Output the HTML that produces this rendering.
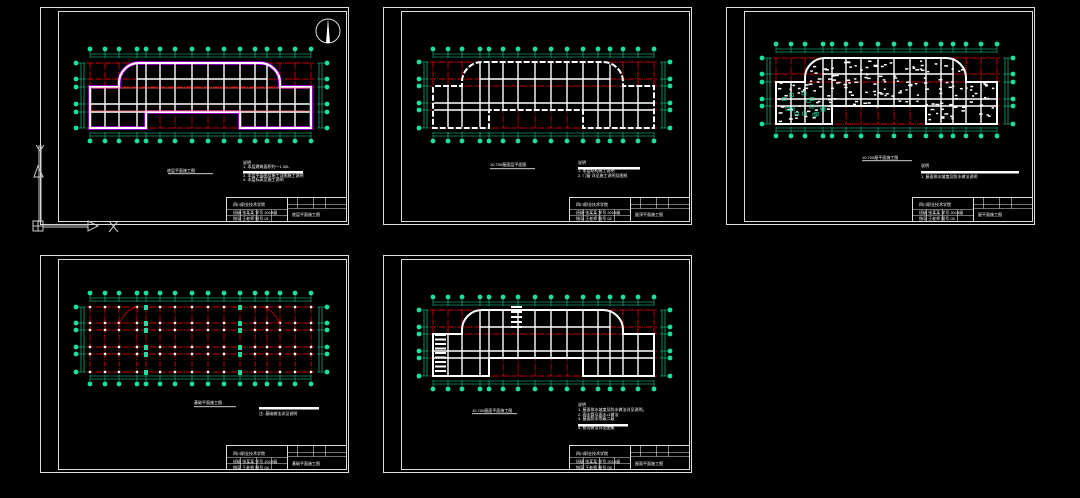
<!DOCTYPE html>
<html><head><meta charset="utf-8">
<style>
html,body{margin:0;padding:0;background:#000;width:1080px;height:498px;overflow:hidden}
svg{display:block}
text{font-family:"Liberation Sans","Noto Sans CJK SC",sans-serif;fill:#fff;font-size:4px}
</style></head>
<body>
<svg id="s" width="1080" height="498" viewBox="0 0 1080 498" xmlns="http://www.w3.org/2000/svg">
<g id="shapes"></g>
<g stroke="#ccc" fill="none" stroke-width="1">
<line x1="39" y1="145" x2="39" y2="222"/>
<line x1="41" y1="145" x2="41" y2="222"/>
<rect x="33" y="221" width="10" height="10"/>
<line x1="33" y1="226" x2="43" y2="226"/><line x1="38" y1="221" x2="38" y2="231"/>
<line x1="43" y1="225" x2="88" y2="225"/><line x1="43" y1="227" x2="88" y2="227"/>
<polygon points="34,177 38,166 43,177"/>
<polygon points="88,221 98,226 88,231"/>
<line x1="109" y1="221" x2="118" y2="232"/><line x1="118" y1="221" x2="109" y2="232"/>
<line x1="36" y1="145" x2="40" y2="151"/><line x1="44" y1="145" x2="40" y2="151"/>
</g>
<circle cx="328" cy="31" r="12" stroke="#ddd" fill="none"/>
<polygon points="328,18 326,43 330,43" fill="#fff"/>
<text x="167" y="172">底层平面施工图</text>
<text x="243" y="164">说明</text>
<text x="243" y="168">1. 本层建筑面积约一1.30L</text>
<text x="243" y="177">3. 本层平面图及施工详图施工说明</text>
<text x="243" y="181">4. 本层标高见施工说明</text>
<text x="233" y="206">四川职业技术学院</text>
<text x="233" y="214">班级 张某某 学号 2019级</text>
<text x="233" y="220">指导 王老师 图号 01</text>
<text x="292" y="216">底层平面施工图</text>

<text x="490" y="166">10.700屋面层平面图</text>
<text x="578" y="164">说明</text>
<text x="578" y="172">1. 本层结构施工说明</text>
<text x="578" y="177">2. 门窗 详见施工说明及图纸</text>
<text x="576" y="206">四川职业技术学院</text>
<text x="576" y="214">班级 张某某 学号 2019级</text>
<text x="576" y="220">指导 王老师 图号 02</text>
<text x="635" y="216">屋顶平面施工图</text>

<text x="862" y="159">10.700屋平面施工图</text>
<text x="921" y="167">说明</text>
<text x="921" y="178">1. 屋面排水坡度及防水做法说明</text>
<text x="919" y="206">四川职业技术学院</text>
<text x="919" y="214">班级 张某某 学号 2019级</text>
<text x="919" y="220">指导 王老师 图号 03</text>
<text x="978" y="216">屋平面施工图</text>

<text x="194" y="404">基础平面施工图</text>
<text x="259" y="415">注: 基础做法详见说明</text>
<text x="233" y="455">四川职业技术学院</text>
<text x="233" y="463">班级 张某某 学号 2019级</text>
<text x="233" y="469">指导 王老师 图号 04</text>
<text x="292" y="465">基础平面施工图</text>

<text x="472" y="412">10.700屋面平面施工图</text>
<text x="578" y="406">说明</text>
<text x="578" y="411">1. 屋面排水坡度及防水做法详见说明。</text>
<text x="578" y="416">2. 雨水管及雨水斗做法</text>
<text x="578" y="420">3. 屋面防水等级二级</text>
<text x="578" y="429">4. 檐沟做法详见图集</text>
<text x="576" y="455">四川职业技术学院</text>
<text x="576" y="463">班级 张某某 学号 2019级</text>
<text x="576" y="469">指导 王老师 图号 05</text>
<text x="635" y="465">屋面平面施工图</text>
</svg>
<script>
const NS="http://www.w3.org/2000/svg";
const G=document.getElementById('shapes');
function el(t,a){const e=document.createElementNS(NS,t);for(const k in a)e.setAttribute(k,a[k]);G.appendChild(e);return e;}
const cols=[50,65,79,97,106,120,135,152,168,184,200,215,227,240,255,271];
function sheet(ox,oy,type,rowsR,top,bot){
  el('rect',{x:ox+0.5,y:oy+0.5,width:308,height:217,fill:'none',stroke:'#ddd'});
  el('rect',{x:ox+18.5,y:oy+4.5,width:288,height:210,fill:'none',stroke:'#ddd'});
  const tx=ox+186.5,ty=oy+190.5;
  el('rect',{x:tx,y:ty,width:120,height:24,fill:'none',stroke:'#ddd'});
  [[0,12,61],[61,7,120],[61,11,120],[0,18,61]].forEach(r=>el('line',{x1:tx+r[0],y1:ty+r[1],x2:tx+r[2],y2:ty+r[1],stroke:'#ddd','stroke-width':.6}));
  el('line',{x1:tx+61,y1:ty,x2:tx+61,y2:ty+24,stroke:'#ddd'});
  [14,30,45].forEach(d=>el('line',{x1:tx+d,y1:ty+12,x2:tx+d,y2:ty+24,stroke:'#ddd','stroke-width':.6}));
  [71,87,99].forEach(d=>el('line',{x1:tx+d,y1:ty,x2:tx+d,y2:ty+11,stroke:'#ddd','stroke-width':.6}));
  const X=c=>ox+c, Y=r=>oy+r;
  const rows=rowsR.map(Y);
  const x0=X(50),x1=X(271);
  const g='#19e0a0';
  [top+5,top+8].forEach(d=>el('line',{x1:x0,y1:Y(d),x2:x1,y2:Y(d),stroke:g,'stroke-width':.6}));
  [bot-5,bot-8].forEach(d=>el('line',{x1:x0,y1:Y(d),x2:x1,y2:Y(d),stroke:g,'stroke-width':.6}));
  [41,44,279,282].forEach(d=>el('line',{x1:X(d),y1:rows[0],x2:X(d),y2:rows[5],stroke:g,'stroke-width':.6}));
  cols.forEach(c=>{el('line',{x1:X(c),y1:Y(top),x2:X(c),y2:Y(top+9),stroke:g,'stroke-width':.5});el('line',{x1:X(c),y1:Y(bot),x2:X(c),y2:Y(bot-9),stroke:g,'stroke-width':.5});
    el('circle',{cx:X(c),cy:Y(top),r:2.4,fill:g});el('circle',{cx:X(c),cy:Y(bot),r:2.4,fill:g});});
  rows.forEach(r=>{el('circle',{cx:X(36),cy:r,r:2.4,fill:g});el('circle',{cx:X(287),cy:r,r:2.4,fill:g});
    el('line',{x1:X(36),y1:r,x2:X(46),y2:r,stroke:g,'stroke-width':.5});el('line',{x1:X(277),y1:r,x2:X(287),y2:r,stroke:g,'stroke-width':.5});});
  cols.forEach(c=>el('line',{x1:X(c),y1:rows[0],x2:X(c),y2:rows[5],stroke:'#c00',"stroke-width":.9,"stroke-dasharray":"6 1 1 1"}));
  rows.forEach(r=>el('line',{x1:x0-3,y1:r,x2:x1+3,y2:r,stroke:'#c00',"stroke-width":1,"stroke-dasharray":"6 1 1 1"}));
  if(type==='found'){
    cols.forEach(c=>rows.forEach(r=>{el('rect',{x:X(c)-1.2,y:r-1.2,width:2.4,height:2.4,fill:'#fff'});}));
    [106,200].forEach(c=>rows.forEach(r=>el('rect',{x:X(c)-2,y:r-2,width:4,height:5,fill:g})));
    el('path',{d:`M${X(79)} ${rows[2]-2} A24 24 0 0 1 ${X(97)} ${rows[0]}`,stroke:'#c00',fill:'none','stroke-width':.8});
    el('path',{d:`M${X(223)} ${rows[0]} A24 24 0 0 1 ${X(240)} ${rows[2]-2}`,stroke:'#c00',fill:'none','stroke-width':.8});
    return;
  }
  const w='#fff';
  const ru=rows[0], rb=rows[5];
  const R=20;
  const outline=`M${X(50)} ${rows[2]} L${X(79)} ${rows[2]} L${X(79)} ${ru+R} A${R} ${R} 0 0 1 ${X(79)+R} ${ru} L${X(240)-R} ${ru} A${R} ${R} 0 0 1 ${X(240)} ${ru+R} L${X(240)} ${rows[2]} L${X(271)} ${rows[2]} L${X(271)} ${rb} L${X(200)} ${rb} L${X(200)} ${rows[4]} L${X(106)} ${rows[4]} L${X(106)} ${rb} L${X(50)} ${rb} Z`;
  if(type==='b1') el('path',{d:outline,stroke:'#b0f',fill:'none','stroke-width':3.5});
  el('path',{d:outline,stroke:w,fill:'none','stroke-width':2});
  cols.forEach(c=>{
    if(c>=97&&c<=227) el('line',{x1:X(c),y1:ru,x2:X(c),y2:rows[2],stroke:w,'stroke-width':1.4});
    if(c>50&&c<271&&(c<=106||c>=200)) el('line',{x1:X(c),y1:rows[2],x2:X(c),y2:rb,stroke:w,'stroke-width':1.4});
    else if(c>106&&c<200) el('line',{x1:X(c),y1:rows[2],x2:X(c),y2:rows[4],stroke:w,'stroke-width':1.4});
  });
  el('line',{x1:X(97),y1:rows[1],x2:X(227),y2:rows[1],stroke:w,'stroke-width':1.4});
  el('line',{x1:X(50),y1:rows[3],x2:X(271),y2:rows[3],stroke:w,'stroke-width':1.6});
  el('line',{x1:X(50),y1:rows[4],x2:X(106),y2:rows[4],stroke:w,'stroke-width':1.4});
  el('line',{x1:X(200),y1:rows[4],x2:X(271),y2:rows[4],stroke:w,'stroke-width':1.4});
  if(type==='b1'){
    el('line',{x1:X(50),y1:rows[2]+1,x2:X(271),y2:rows[2]+1,stroke:'#f66','stroke-width':.8});
    el('line',{x1:X(50),y1:rows[4]-1,x2:X(271),y2:rows[4]-1,stroke:'#f66','stroke-width':.8});
  }
  if(type==='dense'){
    let s=7;const rnd=()=>{s=(s*9301+49297)%233280;return s/233280;};
    for(let i=0;i<230;i++){let x=X(52+rnd()*217),y=ru+2+rnd()*(rb-ru-4);
      if(y<rows[2]&&(x<X(82)||x>X(237)))continue; if(y>rows[4]&&x>X(106)&&x<X(200))continue;
      el('rect',{x:x,y:y,width:2+rnd()*2,height:1.5,fill:'#fff'});}
    for(let i=0;i<14;i++){el('rect',{x:X(55+rnd()*50),y:rows[3]-10+rnd()*25,width:4,height:3,fill:'none',stroke:g,'stroke-width':.6});}
  }
  if(type==='roof'){
    for(let i=0;i<9;i++)el('rect',{x:X(52),y:rows[2]+i*4.5,width:11,height:2,fill:'#fff'});
    for(let i=0;i<5;i++)el('rect',{x:X(128),y:ru-4+i*5,width:11,height:2,fill:'#fff'});
  }
  if(type==='dash'){
    el('path',{d:outline,stroke:'#000',fill:'none','stroke-width':2.2,'stroke-dasharray':'2 6'});
  }
}
sheet(40,7,'b1',[56,72,80,97,105,121],42,134);
sheet(383,7,'dash',[55,72,79,96,103,121],42,134);
sheet(726,7,'dense',[51,67,75,92,99,117],37,129);
sheet(40,255,'found',[52,68,75,92,99,117],38,129);
sheet(383,255,'roof',[55,72,79,96,103,121],42,134);
[[243,171,60],[578,167,62],[921,171,98],[259,407,60],[578,424,50]].forEach(b=>el('rect',{x:b[0],y:b[1],width:b[2],height:2.5,fill:'#fff'}));
[[168,173,45],[490,168,45],[862,160,50],[194,406,42],[472,413,45]].forEach(b=>el('rect',{x:b[0],y:b[1],width:b[2],height:1.2,fill:'#aaa'}));
</script>
</body></html>
